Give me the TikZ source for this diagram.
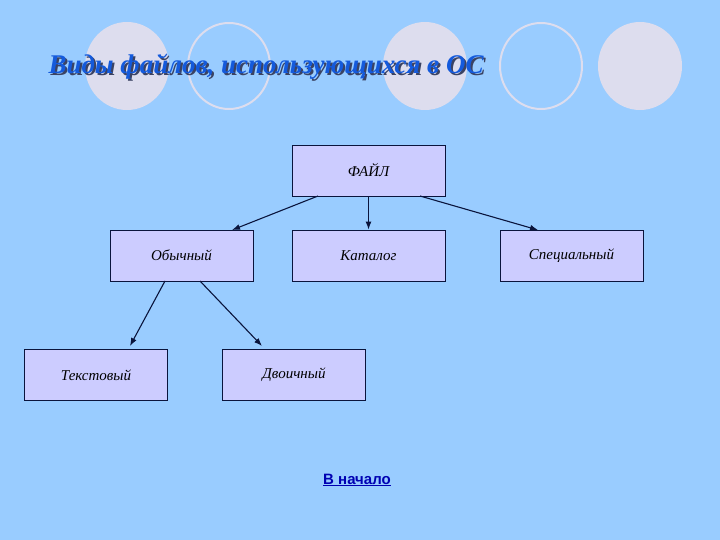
\documentclass[tikz,border=0pt]{standalone}
\usepackage{fontspec}
\setmainfont{Liberation Serif}
\newfontfamily\linkfont{Liberation Sans}
\usetikzlibrary{arrows.meta}
\definecolor{bg}{RGB}{153,204,255}
\definecolor{lav}{RGB}{204,204,255}
\definecolor{circ}{RGB}{221,221,238}
\definecolor{navy}{RGB}{10,20,60}
\definecolor{ttl}{RGB}{20,90,220}
\begin{document}
\begin{tikzpicture}[x=1pt,y=-1pt,
  box/.style={draw=navy,fill=lav,line width=0.9pt,minimum width=143pt,minimum height=51pt,font=\itshape\fontsize{15}{17}\selectfont},
  conn/.style={draw=navy,line width=1.1pt,-{Latex[length=8pt,width=6pt]}}]
\fill[bg] (0,0) rectangle (720,540);
\useasboundingbox (0,0) rectangle (720,540);
\foreach \cx in {127,425,640} \fill[circ] (\cx,66) ellipse (42 and 44);
\foreach \cx in {229,541} \draw[circ,line width=2pt] (\cx,66) ellipse (41 and 43);
\node[anchor=west,text=navy!80,font=\bfseries\itshape\fontsize{27}{30}\selectfont] at (47,69) {Виды файлов, использующихся в ОС};
\node[anchor=west,text=ttl,font=\bfseries\itshape\fontsize{27}{30}\selectfont] (title) at (45,67) {Виды файлов, использующихся в ОС};
\node[box,minimum width=153pt] (f) at (368.5,170.5) {ФАЙЛ};
\node[box] (o) at (181.5,255.5) {Обычный};
\node[box,minimum width=153pt] (k) at (368.5,255.5) {Каталог};
\node[box] (s) at (571.5,255.5) {Специальный};
\node[box] (t) at (96,375) {Текстовый};
\node[box] (d) at (294,375) {Двоичный};
\coordinate (f1) at (318,196); \coordinate (o1) at (232,230);
\draw[conn] (f1) -- (o1);
\draw[conn] (f.south) -- (k.north);
\coordinate (f3) at (420,196); \coordinate (s1) at (538,230);
\draw[conn] (f3) -- (s1);
\coordinate (oa) at (165,281); \coordinate (ta) at (130,346);
\coordinate (ob) at (200,281); \coordinate (db) at (262,346);
\draw[conn] (oa) -- (ta);
\draw[conn] (ob) -- (db);
\node[text=blue!70!black,font=\linkfont\bfseries\fontsize{15}{17}\selectfont] (link) at (357,480) {\underline{В начало}};
\end{tikzpicture}
\end{document}
